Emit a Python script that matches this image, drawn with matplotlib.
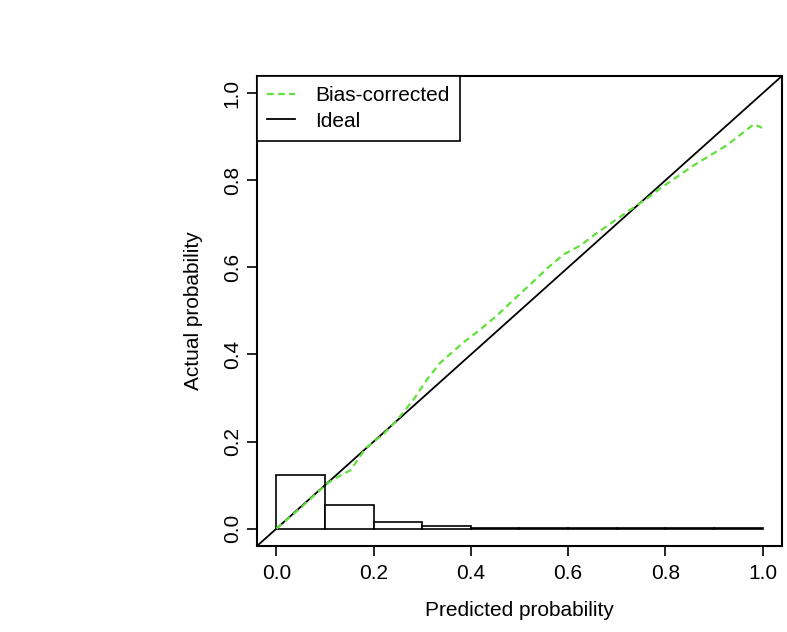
import numpy as np
import matplotlib
matplotlib.use("Agg")
import matplotlib.pyplot as plt

plt.rcParams["font.family"] = ["Liberation Sans", "DejaVu Sans"]

# data
pred = [0.0, 0.05, 0.104, 0.117, 0.152, 0.183, 0.221, 0.25, 0.283, 0.31, 0.337, 0.385,
        0.42, 0.454, 0.49, 0.523, 0.56, 0.591, 0.626, 0.653, 0.722, 0.763, 0.790,
        0.859, 0.927, 0.982, 0.999]
bias_corrected = [0.0, 0.048, 0.103, 0.113, 0.134, 0.184, 0.218, 0.252, 0.298, 0.343,
                  0.381, 0.428, 0.458, 0.49, 0.528, 0.562, 0.601, 0.630, 0.651, 0.674,
                  0.728, 0.759, 0.782, 0.835, 0.881, 0.929, 0.921]

bin_left = [0.0, 0.1, 0.2, 0.3, 0.4, 0.5, 0.6, 0.7, 0.8, 0.9]
bin_height = [0.123, 0.055, 0.015, 0.005, 0.0012, 0.001, 0.001, 0.001, 0.001, 0.0015]

fig = plt.figure(figsize=(7.87, 6.32), dpi=100)
ax = fig.add_axes([0.3266, 0.1361, 0.667, 0.7437])

ax.bar(bin_left, bin_height, width=0.1, align="edge", facecolor="white",
       edgecolor="black", linewidth=1.2, zorder=2)

ax.plot(pred, bias_corrected, linestyle=(0, (3, 2)), color="#5fe03a", linewidth=1.6,
        label="Bias-corrected", zorder=3)
ax.axline((0, 0), (1, 1), color="black", linewidth=1.3, label="Ideal", zorder=2)

ax.set_xlim(-0.04, 1.04)
ax.set_ylim(-0.04, 1.04)
ticks = [0.0, 0.2, 0.4, 0.6, 0.8, 1.0]
ax.set_xticks(ticks)
ax.set_yticks(ticks)
ax.set_xticklabels([f"{t:.1f}" for t in ticks])
ax.set_yticklabels([f"{t:.1f}" for t in ticks], rotation=90, va="center")
ax.tick_params(direction="out", length=7, width=1.2, labelsize=15)
ax.tick_params(axis="x", pad=6)
ax.tick_params(axis="y", pad=4)

for s in ax.spines.values():
    s.set_linewidth(1.5)

ax.set_xlabel("Predicted probability", fontsize=15, labelpad=13)
ax.set_ylabel("Actual probability", fontsize=15, labelpad=14)

leg = ax.legend(loc="upper left", borderaxespad=0, fancybox=False, framealpha=1,
                edgecolor="black", fontsize=15, handlelength=1.3, handletextpad=1.0,
                borderpad=0.5, labelspacing=0.3)
leg.get_frame().set_linewidth(1.2)

fig.savefig("out.png", dpi=100)
